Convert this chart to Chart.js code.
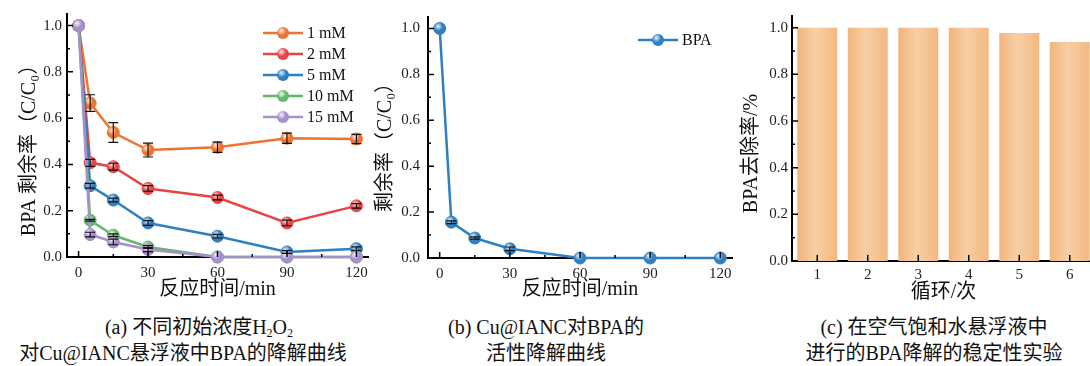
<!DOCTYPE html>
<html>
<head>
<meta charset="utf-8">
<script src="https://cdn.jsdelivr.net/npm/chart.js@4/dist/chart.umd.min.js"></script>
<style>
    body {
        margin: 0;
        width: 1090px;
        height: 366px;
        overflow: hidden;
        position: relative;
        background: #fff;
        font-family: 'Liberation Serif', 'Noto Sans CJK SC', serif;
    }
    canvas {
        position: absolute;
        top: 0;
    }
    .caption {
        position: absolute;
        top: 314px;
        width: 400px;
        text-align: center;
        font-size: 20px;
        line-height: 26px;
        color: #111;
        white-space: nowrap;
    }
    .caption sub {
        font-size: 12px;
        line-height: 0;
        vertical-align: -3px;
    }
    .shift {
        position: relative;
        left: 16px;
    }
</style>
</head>
<body>
<canvas id="chart-a" width="375" height="305" style="left:0;width:375px;height:305px"></canvas>
<canvas id="chart-b" width="370" height="305" style="left:370px;width:370px;height:305px"></canvas>
<canvas id="chart-c" width="370" height="305" style="left:730px;width:370px;height:305px"></canvas>

<div class="caption" style="left:-17px"><span class="shift">(a) 不同初始浓度H<sub>2</sub>O<sub>2</sub></span><br>对Cu@IANC悬浮液中BPA的降解曲线</div>
<div class="caption" style="left:346px">(b) Cu@IANC对BPA的<br>活性降解曲线</div>
<div class="caption" style="left:734px">(c) 在空气饱和水悬浮液中<br>进行的BPA降解的稳定性实验</div>

<script>
// data
const times = [0, 5, 15, 30, 60, 90, 120];
const concLabels = ["1 mM", "2 mM", "5 mM", "10 mM", "15 mM"];
const remain1mM = [1.0, 0.665, 0.538, 0.462, 0.474, 0.513, 0.510];
const remain2mM = [1.0, 0.407, 0.390, 0.296, 0.257, 0.147, 0.221];
const remain5mM = [1.0, 0.308, 0.246, 0.147, 0.090, 0.022, 0.036];
const remain10mM = [1.0, 0.159, 0.094, 0.043, 0.0, 0.0, 0.0];
const remain15mM = [1.0, 0.097, 0.065, 0.032, 0.0, 0.0, 0.0];
const err1mM = [0, 0.036, 0.043, 0.030, 0.022, 0.022, 0.020];
const err2mM = [0, 0.015, 0.015, 0.012, 0.010, 0.012, 0.010];
const err5mM = [0, 0.010, 0.008, 0.010, 0.008, 0.006, 0.008];
const err10mM = [0, 0.004, 0.006, 0.006, 0, 0, 0];
const err15mM = [0, 0.010, 0.012, 0.009, 0, 0, 0];

const bpaLabel = "BPA";
const bpaRemain = [1.0, 0.156, 0.087, 0.040, 0.0, 0.0, 0.0];
const bpaErr = [0, 0.006, 0.005, 0.008, 0, 0, 0];

const cycles = ["1", "2", "3", "4", "5", "6"];
const removal = [1.0, 1.0, 1.0, 1.0, 0.977, 0.939];

const timeTicks = [0, 30, 60, 90, 120];
const timeMinorTicks = [15, 45, 75, 105];
const rateTicks = [0, 0.2, 0.4, 0.6, 0.8, 1.0];
const rateMinorTicks = [0.1, 0.3, 0.5, 0.7, 0.9];

const serif = "'Liberation Serif', 'Noto Sans CJK SC', serif";
Chart.defaults.font.family = serif;
Chart.defaults.color = "#111";
Chart.defaults.animation = false;

function createChart(id, type, data, options, plugins) {
    const ctx = document.getElementById(id).getContext("2d");
    return new Chart(ctx, { type: type, data: data, options: options, plugins: plugins || [] });
}

function toPoints(values) {
    return values.map((v, i) => ({ x: times[i], y: v }));
}

// little shiny ball like the Origin markers
function drawBall(ctx, x, y, r, color) {
    ctx.beginPath();
    ctx.arc(x, y, r, 0, Math.PI * 2);
    ctx.fillStyle = color;
    ctx.fill();
    shine(ctx, x, y, r);
}

function shine(ctx, x, y, r) {
    const g = ctx.createRadialGradient(x - r * 0.25, y - r * 0.35, 0, x - r * 0.25, y - r * 0.35, r * 0.75);
    g.addColorStop(0, "rgba(255,255,255,0.9)");
    g.addColorStop(1, "rgba(255,255,255,0)");
    ctx.beginPath();
    ctx.arc(x, y, r, 0, Math.PI * 2);
    ctx.fillStyle = g;
    ctx.fill();
}

// ticks that point into the plot
const inwardTicks = {
    id: "inwardTicks",
    afterDraw(chart, args, opts) {
        const { ctx, chartArea, scales } = chart;
        ctx.save();
        ctx.strokeStyle = "#000";
        ctx.lineWidth = 1.5;
        ctx.beginPath();
        opts.xMajor.forEach(v => {
            const px = scales.x.getPixelForValue(v);
            ctx.moveTo(px, chartArea.bottom);
            ctx.lineTo(px, chartArea.bottom - 6);
        });
        opts.xMinor.forEach(v => {
            const px = scales.x.getPixelForValue(v);
            ctx.moveTo(px, chartArea.bottom);
            ctx.lineTo(px, chartArea.bottom - 3);
        });
        opts.yMajor.forEach(v => {
            const py = scales.y.getPixelForValue(v);
            ctx.moveTo(chartArea.left, py);
            ctx.lineTo(chartArea.left + 6, py);
        });
        opts.yMinor.forEach(v => {
            const py = scales.y.getPixelForValue(v);
            ctx.moveTo(chartArea.left, py);
            ctx.lineTo(chartArea.left + 3, py);
        });
        ctx.stroke();
        ctx.restore();
    }
};

const pointShine = {
    id: "pointShine",
    afterDatasetDraw(chart, args) {
        const ctx = chart.ctx;
        ctx.save();
        args.meta.data.forEach(pt => shine(ctx, pt.x, pt.y, 6));
        ctx.restore();
    }
};

const errorBars = {
    id: "errorBars",
    afterDatasetsDraw(chart) {
        const { ctx, scales } = chart;
        ctx.save();
        ctx.strokeStyle = "#111";
        ctx.lineWidth = 1.2;
        chart.data.datasets.forEach(ds => {
            if (!ds.errors) return;
            ds.data.forEach((p, i) => {
                const e = ds.errors[i];
                if (!e) return;
                const px = scales.x.getPixelForValue(p.x);
                const top = scales.y.getPixelForValue(p.y + e);
                const bot = scales.y.getPixelForValue(p.y - e);
                ctx.beginPath();
                ctx.moveTo(px, top); ctx.lineTo(px, bot);
                ctx.moveTo(px - 5, top); ctx.lineTo(px + 5, top);
                ctx.moveTo(px - 5, bot); ctx.lineTo(px + 5, bot);
                ctx.stroke();
            });
        });
        ctx.restore();
    }
};

const lineLegend = {
    id: "lineLegend",
    afterDraw(chart, args, opts) {
        const ctx = chart.ctx;
        ctx.save();
        ctx.font = "16px " + serif;
        ctx.textBaseline = "middle";
        chart.data.datasets.forEach((ds, i) => {
            const y = opts.top + i * opts.gap;
            ctx.strokeStyle = ds.borderColor;
            ctx.lineWidth = 2.5;
            ctx.beginPath();
            ctx.moveTo(opts.left, y);
            ctx.lineTo(opts.left + 40, y);
            ctx.stroke();
            drawBall(ctx, opts.left + 20, y, 6, ds.borderColor);
            ctx.fillStyle = "#111";
            ctx.fillText(ds.label, opts.left + 44, y + 1);
        });
        ctx.restore();
    }
};

function lineSet(label, values, errors, color, order) {
    return {
        label: label,
        data: toPoints(values),
        errors: errors,
        borderColor: color,
        backgroundColor: color,
        pointBackgroundColor: color,
        pointBorderColor: color,
        pointBorderWidth: 1,
        pointRadius: 6,
        borderWidth: 2.5,
        tension: 0,
        clip: false,
        order: order
    };
}

function lineOptions(yWidth, yTitle, yTitlePad, yTickPad, padRight, padTop, xHeight, legendPos) {
    return {
        responsive: false,
        layout: { padding: { top: padTop, right: padRight, left: 0, bottom: 0 } },
        plugins: {
            legend: { display: false },
            tooltip: { enabled: false },
            inwardTicks: { xMajor: timeTicks, xMinor: timeMinorTicks, yMajor: rateTicks, yMinor: rateMinorTicks },
            lineLegend: legendPos
        },
        scales: {
            x: {
                type: "linear",
                min: -5,
                max: 125,
                afterBuildTicks: s => { s.ticks = timeTicks.map(v => ({ value: v })); },
                afterFit: s => { s.height = xHeight; },
                grid: { display: false, drawTicks: false },
                border: { display: true, color: "#000", width: 2 },
                ticks: { font: { size: 15 }, padding: 7, color: "#222" },
                title: { display: true, text: "反应时间/min", font: { size: 20 }, color: "#111", padding: { top: 0, bottom: 3 } }
            },
            y: {
                min: 0,
                max: 1.05,
                afterBuildTicks: s => { s.ticks = rateTicks.map(v => ({ value: v })); },
                afterFit: s => { s.width = yWidth; },
                grid: { display: false, drawTicks: false },
                border: { display: true, color: "#000", width: 2 },
                ticks: { font: { size: 15 }, padding: yTickPad, color: "#222", callback: v => v.toFixed(1) },
                title: { display: true, text: yTitle, font: { size: 20 }, color: "#111", padding: { top: yTitlePad, bottom: 0 } }
            }
        }
    };
}

// (a) different H2O2 concentrations
const concData = {
    datasets: [
        lineSet(concLabels[0], remain1mM, err1mM, "#EE7330", 5),
        lineSet(concLabels[1], remain2mM, err2mM, "#E54545", 4),
        lineSet(concLabels[2], remain5mM, err5mM, "#2F7FC3", 3),
        lineSet(concLabels[3], remain10mM, err10mM, "#62B86C", 2),
        lineSet(concLabels[4], remain15mM, err15mM, "#A78FCB", 1)
    ]
};
createChart("chart-a", "line", concData,
    lineOptions(67, "BPA 剩余率（C/C₀）\u2002\u2002", 18, 5, 7, 14, 48, { left: 263, top: 33, gap: 21 }),
    [inwardTicks, pointShine, errorBars, lineLegend]);

// (b) BPA on Cu@IANC
const bpaData = {
    datasets: [lineSet(bpaLabel, bpaRemain, bpaErr, "#2F7FC3", 1)]
};
createChart("chart-b", "line", bpaData,
    lineOptions(58, "剩余率（C/C₀）\u2002", 4, 8, 8, 15, 47, { left: 268, top: 40, gap: 21 }),
    [inwardTicks, pointShine, errorBars, lineLegend]);

// (c) stability over cycles
function barFill(context) {
    const chart = context.chart;
    const xScale = chart.scales.x;
    if (!chart.chartArea || !xScale) return "#F4C08C";
    const cx = xScale.getPixelForValue(context.dataIndex);
    const half = (xScale.getPixelForValue(1) - xScale.getPixelForValue(0)) * 0.79 / 2;
    const g = chart.ctx.createLinearGradient(cx - half, 0, cx + half, 0);
    g.addColorStop(0, "#F2B47B");
    g.addColorStop(0.45, "#F7CFA6");
    g.addColorStop(1, "#F3B880");
    return g;
}

const cycleData = {
    labels: cycles,
    datasets: [{
        label: "BPA",
        data: removal,
        backgroundColor: barFill,
        borderWidth: 0,
        barPercentage: 0.79,
        categoryPercentage: 1
    }]
};
createChart("chart-c", "bar", cycleData, {
    responsive: false,
    layout: { padding: { top: 16, right: 5, left: 0, bottom: 0 } },
    plugins: {
        legend: { display: false },
        tooltip: { enabled: false },
        inwardTicks: { xMajor: [0, 1, 2, 3, 4, 5], xMinor: [], yMajor: rateTicks, yMinor: rateMinorTicks }
    },
    scales: {
        x: {
            afterFit: s => { s.height = 44; },
            grid: { display: false, drawTicks: false },
            border: { display: true, color: "#000", width: 2 },
            ticks: { font: { size: 15 }, padding: 5, color: "#222" },
            title: { display: true, text: "循环/次", font: { size: 20 }, color: "#111", padding: { top: 0, bottom: 0 } }
        },
        y: {
            min: 0,
            max: 1.05,
            afterBuildTicks: s => { s.ticks = rateTicks.map(v => ({ value: v })); },
            afterFit: s => { s.width = 62; },
            grid: { display: false, drawTicks: false },
            border: { display: true, color: "#000", width: 2 },
            ticks: { font: { size: 15 }, padding: 4, color: "#222", callback: v => v.toFixed(1) },
            title: { display: true, text: "BPA去除率/%\u2002\u2002\u2002", font: { size: 20 }, color: "#111", padding: { top: 10, bottom: 0 } }
        }
    }
}, [inwardTicks]);
</script>
</body>
</html>
